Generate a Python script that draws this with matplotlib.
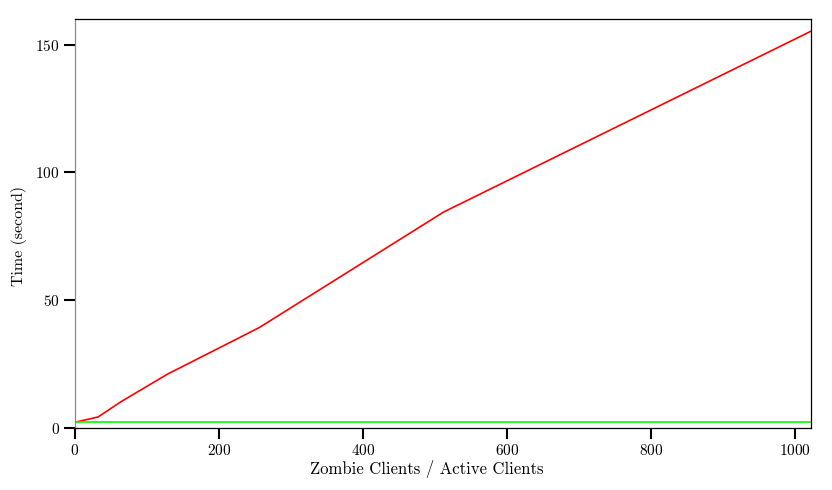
import matplotlib
matplotlib.use("Agg")
import matplotlib.pyplot as plt

plt.rcParams['font.family'] = ['cmr10', 'DejaVu Serif']
plt.rcParams['axes.formatter.use_mathtext'] = True

clients = [1, 32, 64, 128, 256, 512, 1024]
zombie_time = [2.3, 4.3, 10.3, 21.0, 39.3, 84.5, 155.5]
active_time = [2.2, 2.2, 2.2, 2.2, 2.2, 2.2, 2.2]

fig = plt.figure(figsize=(8.32, 4.90), dpi=100)
ax = fig.add_axes([75/832, 1-428/490, (811-75)/832, (428-19)/490])

ax.plot(clients, zombie_time, color='#ff0000', lw=1.2)
ax.plot([0] + clients, [active_time[0]] + active_time, color='#00ff00', lw=1.2)

ax.set_xlim(0, 1022)
ax.set_ylim(0, 160)
ax.set_xticks([0, 200, 400, 600, 800, 1000])
ax.set_yticks([0, 50, 100, 150])
ax.tick_params(axis='both', direction='out', length=8, width=1.5, labelsize=11,
               top=False, right=False, pad=3)
ax.spines['left'].set_color('#888888')
for s in ['top', 'right', 'bottom']:
    ax.spines[s].set_color('black')
for s in ax.spines.values():
    s.set_linewidth(0.9)

ax.set_xlabel('Zombie Clients / Active Clients', fontsize=12)
ax.xaxis.set_label_coords(0.478, -0.078)
ax.set_ylabel('Time (second)', fontsize=11.5)
ax.yaxis.set_label_coords(-0.065, 0.47)

fig.savefig('out.png', dpi=100)
